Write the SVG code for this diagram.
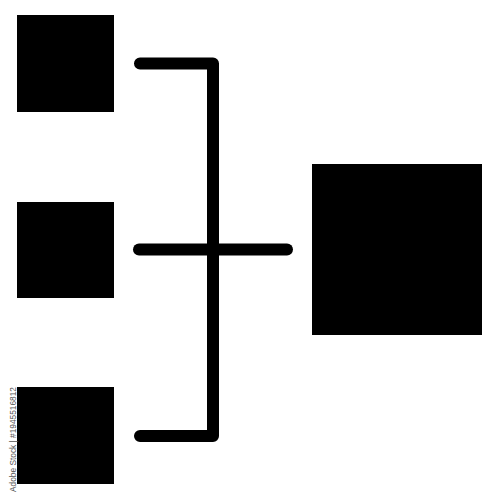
<svg xmlns="http://www.w3.org/2000/svg" width="500" height="500" viewBox="0 0 500 500">
<style>
.box{fill:#000}
.conn{fill:none;stroke:#000;stroke-width:12;stroke-linecap:round;stroke-linejoin:round}
.wm{font-family:"Liberation Sans",Arial,sans-serif;font-size:9.5px;fill:#555}
</style>
<rect width="500" height="500" fill="#fff"/>
<g id="source-top"><rect class="box" x="17" y="15" width="97" height="97"/></g>
<g id="source-middle"><rect class="box" x="17" y="202" width="97" height="96"/></g>
<g id="source-bottom"><rect class="box" x="17" y="387" width="97" height="97"/></g>
<g id="target"><rect class="box" x="312" y="164" width="170" height="171"/></g>
<g id="connectors">
<path class="conn" d="M140 63.5 H213 V436 H140"/>
<path class="conn" d="M139 249.5 H287"/>
</g>
<text class="wm" transform="translate(15.5 492) rotate(-90)" textLength="105" lengthAdjust="spacingAndGlyphs">Adobe Stock | #1945516812</text>
</svg>
